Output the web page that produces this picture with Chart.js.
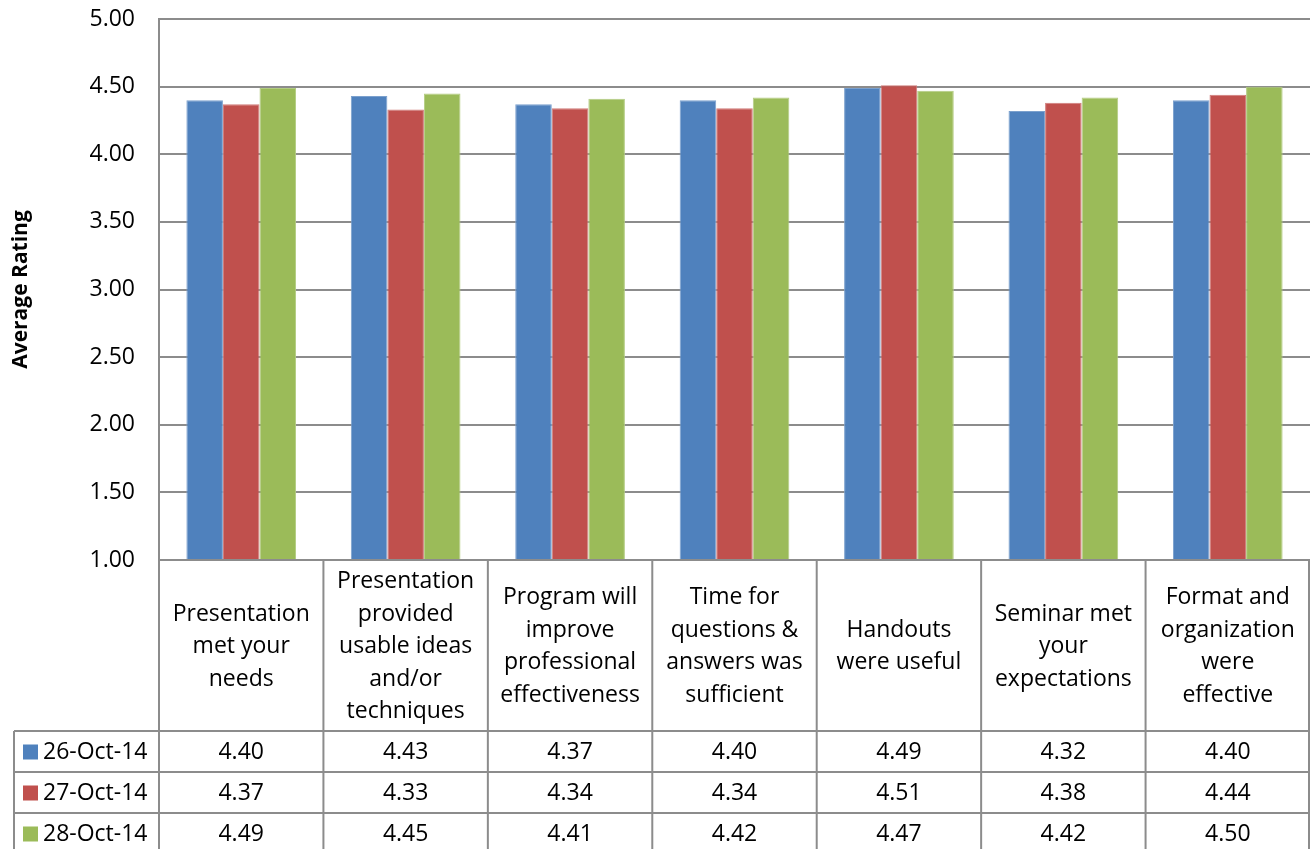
<!DOCTYPE html>
<html>
<head>
<meta charset="utf-8">
<script src="https://cdn.jsdelivr.net/npm/chart.js@4.4.1/dist/chart.umd.min.js"></script>
<style>
  html, body { margin: 0; padding: 0; background: #fff; }
  #wrap { width: 1310px; height: 849px; position: relative; }
</style>
</head>
<body>
<div id="wrap"><canvas id="chart"></canvas></div>
<script>
// categories (wrapped the way the table header shows them)
var categories = [
  ["Presentation", "met your", "needs"],
  ["Presentation", "provided", "usable ideas", "and/or", "techniques"],
  ["Program will", "improve", "professional", "effectiveness"],
  ["Time for", "questions &", "answers was", "sufficient"],
  ["Handouts", "were useful"],
  ["Seminar met", "your", "expectations"],
  ["Format and", "organization", "were", "effective"]
];
var seriesNames = ["26-Oct-14", "27-Oct-14", "28-Oct-14"];
var oct26 = [4.40, 4.43, 4.37, 4.40, 4.49, 4.32, 4.40];
var oct27 = [4.37, 4.33, 4.34, 4.34, 4.51, 4.38, 4.44];
var oct28 = [4.49, 4.45, 4.41, 4.42, 4.47, 4.42, 4.50];
var seriesColors = ["#4F81BD", "#C0504D", "#9BBB59"];
var borderColors = ["#7BA0CD", "#CF7B79", "#B3CC82"];

var FONT = "'Open Sans', 'DejaVu Sans', sans-serif";
var GRID = "#8c8c8c";

// draws the data table under the plot (header + one row per series)
var dataTable = {
  id: 'dataTable',
  afterDraw: function(chart) {
    var ctx = chart.ctx;
    var x = chart.scales.x;
    var area = chart.chartArea;
    var n = categories.length;
    var w = (x.right - x.left) / n;
    var top = area.bottom;
    var headH = 171, rowH = 41;
    var legendLeft = 14;
    var bottom = top + headH + rowH * seriesNames.length;
    var i, j;

    ctx.save();
    ctx.strokeStyle = GRID;
    ctx.lineWidth = 2;
    ctx.beginPath();
    // vertical cell borders
    for (i = 0; i <= n; i++) {
      var vx = Math.min(x.left + i * w, chart.width - 1);
      ctx.moveTo(vx, top);
      ctx.lineTo(vx, bottom);
    }
    ctx.moveTo(legendLeft, top + headH);
    ctx.lineTo(legendLeft, bottom);
    // horizontal lines
    ctx.moveTo(x.left, top);
    ctx.lineTo(chart.width, top);
    for (j = 0; j < seriesNames.length; j++) {
      var hy = top + headH + j * rowH;
      ctx.moveTo(legendLeft, hy);
      ctx.lineTo(chart.width, hy);
    }
    ctx.stroke();

    ctx.fillStyle = "#000";
    ctx.font = "23px " + FONT;
    ctx.textAlign = "center";
    ctx.textBaseline = "middle";
    var lineH = 32.5;
    // header labels
    for (i = 0; i < n; i++) {
      var cx = x.getPixelForValue(i);
      var lines = categories[i];
      var y0 = top + headH / 2 - (lines.length - 1) * lineH / 2 + 1;
      for (j = 0; j < lines.length; j++) {
        ctx.fillText(lines[j], cx, y0 + j * lineH);
      }
    }
    // rows
    chart.data.datasets.forEach(function(ds, r) {
      var cy = top + headH + r * rowH + rowH / 2;
      ctx.fillStyle = seriesColors[r];
      ctx.fillRect(23, cy - 7, 15, 15);
      ctx.fillStyle = "#000";
      ctx.textAlign = "left";
      ctx.fillText(ds.label, 43, cy + 1);
      ctx.textAlign = "center";
      ds.data.forEach(function(v, k) {
        ctx.fillText(v.toFixed(2), x.getPixelForValue(k), cy + 1);
      });
    });
    ctx.restore();
  }
};

new Chart(document.getElementById('chart').getContext('2d'), {
  type: 'bar',
  data: {
    labels: categories,
    datasets: [
      { label: seriesNames[0], data: oct26, backgroundColor: seriesColors[0], borderColor: borderColors[0], borderWidth: 1 },
      { label: seriesNames[1], data: oct27, backgroundColor: seriesColors[1], borderColor: borderColors[1], borderWidth: 1 },
      { label: seriesNames[2], data: oct28, backgroundColor: seriesColors[2], borderColor: borderColors[2], borderWidth: 1 }
    ]
  },
  options: {
    responsive: true,
    maintainAspectRatio: false,
    animation: false,
    layout: { padding: { top: 19, right: 0, bottom: 289, left: 0 } },
    categoryPercentage: 0.667,
    barPercentage: 1.0,
    plugins: {
      legend: { display: false },
      tooltip: { enabled: false }
    },
    scales: {
      x: {
        display: false
      },
      y: {
        min: 1,
        max: 5,
        afterFit: function(scale) {
          scale.width = 159;
          scale.paddingTop = 0;
          scale.paddingBottom = 0;
        },
        ticks: {
          stepSize: 0.5,
          padding: 24,
          color: "#000",
          font: { family: FONT, size: 23 },
          callback: function(v) { return Number(v).toFixed(2); }
        },
        grid: { color: GRID, lineWidth: 2, drawTicks: false },
        border: { color: GRID, width: 2 },
        title: {
          display: true,
          text: "Average Rating",
          color: "#000",
          font: { family: FONT, size: 21, weight: 'bold' },
          padding: { top: 8, bottom: 0 }
        }
      }
    }
  },
  plugins: [dataTable]
});
</script>
</body>
</html>
